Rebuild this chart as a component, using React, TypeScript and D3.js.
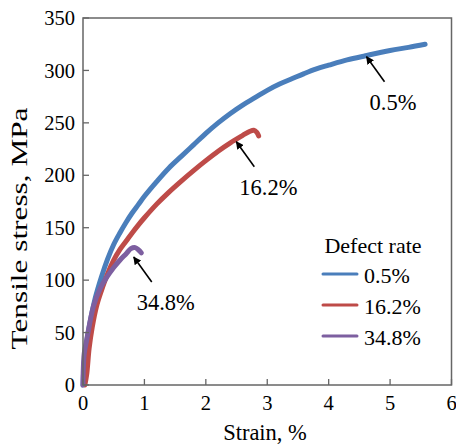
import * as d3 from "d3";

const W = 456;
const H = 445;
const M = { top: 18, right: 4.5, bottom: 60, left: 83 };

// strain (%) / tensile stress (MPa)
const strain05 = [0, 0.02, 0.05, 0.1, 0.2, 0.3, 0.4, 0.5, 0.6, 0.7, 0.8, 0.9, 1.0, 1.2, 1.4, 1.6, 1.8, 2.0, 2.2, 2.4, 2.6, 2.8, 3.0, 3.2, 3.4, 3.6, 3.8, 4.0, 4.3, 4.6, 5.0, 5.3, 5.57];
const stress05 = [0, 22, 37, 55, 83, 103, 120, 134, 145, 155, 164, 172, 180, 194, 207, 218, 229, 240, 250, 259, 267, 274, 281, 287, 292, 297, 301.5, 305, 310, 314, 319, 322, 325];

const strain162 = [0.03, 0.06, 0.1, 0.15, 0.22, 0.3, 0.4, 0.5, 0.6, 0.7, 0.8, 0.9, 1.0, 1.2, 1.4, 1.6, 1.8, 2.0, 2.2, 2.4, 2.6, 2.72, 2.78, 2.83, 2.86];
const stress162 = [0, 10, 35, 55, 75, 90, 106, 119, 129, 137, 145, 152.5, 159.5, 172.5, 184, 194.5, 204.5, 214, 223, 231, 238, 242, 243, 241, 237.5];

const strain348 = [0, 0.005, 0.02, 0.06, 0.17, 0.28, 0.39, 0.5, 0.6, 0.7, 0.78, 0.85, 0.9, 0.95];
const stress348 = [0, 15, 30, 43, 75, 92, 103, 112, 119, 125, 130, 131, 129, 126];

const seriesNames = ["0.5%", "16.2%", "34.8%"];
const seriesColors = ["#4a7ebb", "#be4b48", "#7d5fa0"];
const seriesX = [strain05, strain162, strain348];
const seriesY = [stress05, stress162, stress348];

const xTicks = [0, 1, 2, 3, 4, 5, 6];
const yTicks = [0, 50, 100, 150, 200, 250, 300, 350];

// arrow tip on the curve (data units) and the label under the arrow tail
const notePoints = [
  { label: "0.5%", sx: 4.6, sy: 314 },
  { label: "16.2%", sx: 2.48, sy: 233 },
  { label: "34.8%", sx: 0.81, sy: 123 },
];

const FONT =
  "'Liberation Serif', 'Times New Roman', Times, Tinos, 'Nimbus Roman', 'Nimbus Roman No9 L', FreeSerif, 'DejaVu Serif', 'Noto Serif', serif";

export default function App() {
  const x = d3.scaleLinear().domain([0, 6]).range([M.left, W - M.right]);
  const y = d3.scaleLinear().domain([0, 350]).range([H - M.bottom, M.top]);

  const line = d3
    .line<[number, number]>()
    .x((d) => x(d[0]))
    .y((d) => y(d[1]))
    .curve(d3.curveCatmullRom.alpha(0.5));

  const axisColor = "#666";
  const bottom = y(0);
  const txt = { fontFamily: FONT, fill: "#000" };

  return (
    <svg
      width={W}
      height={H}
      style={{ position: "absolute", left: 0, top: 0, background: "#fff", fontFamily: FONT }}
    >
      <defs>
        <marker id="arr" viewBox="0 0 10 10" refX="9" refY="5" markerWidth="5" markerHeight="5" orient="auto-start-reverse">
          <path d="M0,0 L10,5 L0,10 z" fill="#000" />
        </marker>
      </defs>

      {/* curves */}
      {seriesX.map((xs, i) => (
        <path
          key={i}
          d={line(xs.map((v, j) => [v, seriesY[i][j]]) as [number, number][]) || ""}
          fill="none"
          stroke={seriesColors[i]}
          strokeWidth={5}
          strokeLinejoin="round"
          strokeLinecap="round"
        />
      ))}

      {/* frame */}
      <rect
        x={M.left}
        y={M.top}
        width={W - M.right - M.left}
        height={bottom - M.top}
        fill="none"
        stroke={axisColor}
        strokeWidth={1.5}
      />

      {/* x ticks */}
      {xTicks.map((t) => (
        <g key={t}>
          <line x1={x(t)} x2={x(t)} y1={bottom} y2={bottom - 6} stroke={axisColor} strokeWidth={1.3} />
          <text x={x(t)} y={410} textAnchor="middle" fontSize={20.5} style={txt}>
            {t}
          </text>
        </g>
      ))}

      {/* y ticks */}
      {yTicks.map((t) => (
        <g key={t}>
          <line x1={M.left} x2={M.left + 6} y1={y(t)} y2={y(t)} stroke={axisColor} strokeWidth={1.3} />
          <text x={75} y={y(t)} dy="0.35em" textAnchor="end" fontSize={20.5} style={txt}>
            {t}
          </text>
        </g>
      ))}

      {/* axis titles */}
      <text x={265} y={440} textAnchor="middle" fontSize={22.5} style={txt}>
        Strain, %
      </text>
      <text
        transform={`translate(27,228.5) rotate(-90)`}
        textAnchor="middle"
        fontSize={22.5}
        textLength={242}
        lengthAdjust="spacingAndGlyphs"
        style={txt}
      >
        Tensile stress, MPa
      </text>

      {/* annotations */}
      {notePoints.map((n, i) => {
        const tx = x(n.sx);
        const ty = y(n.sy);
        return (
          <g key={i}>
            <line
              x1={tx + 19}
              y1={ty + 26}
              x2={tx + 1}
              y2={ty + 1}
              stroke="#000"
              strokeWidth={1.6}
              markerEnd="url(#arr)"
            />
            <text x={tx + 4} y={ty + 54} fontSize={22.5} style={txt}>
              {n.label}
            </text>
          </g>
        );
      })}

      {/* legend */}
      <text x={373} y={253} textAnchor="middle" fontSize={22} style={txt}>
        Defect rate
      </text>
      {seriesNames.map((s, i) => (
        <g key={s}>
          <line
            x1={323}
            x2={357}
            y1={274 + i * 31}
            y2={274 + i * 31}
            stroke={seriesColors[i]}
            strokeWidth={3}
            strokeLinecap="round"
          />
          <text x={364} y={282.5 + i * 31} fontSize={22} style={txt}>
            {s}
          </text>
        </g>
      ))}
    </svg>
  );
}
